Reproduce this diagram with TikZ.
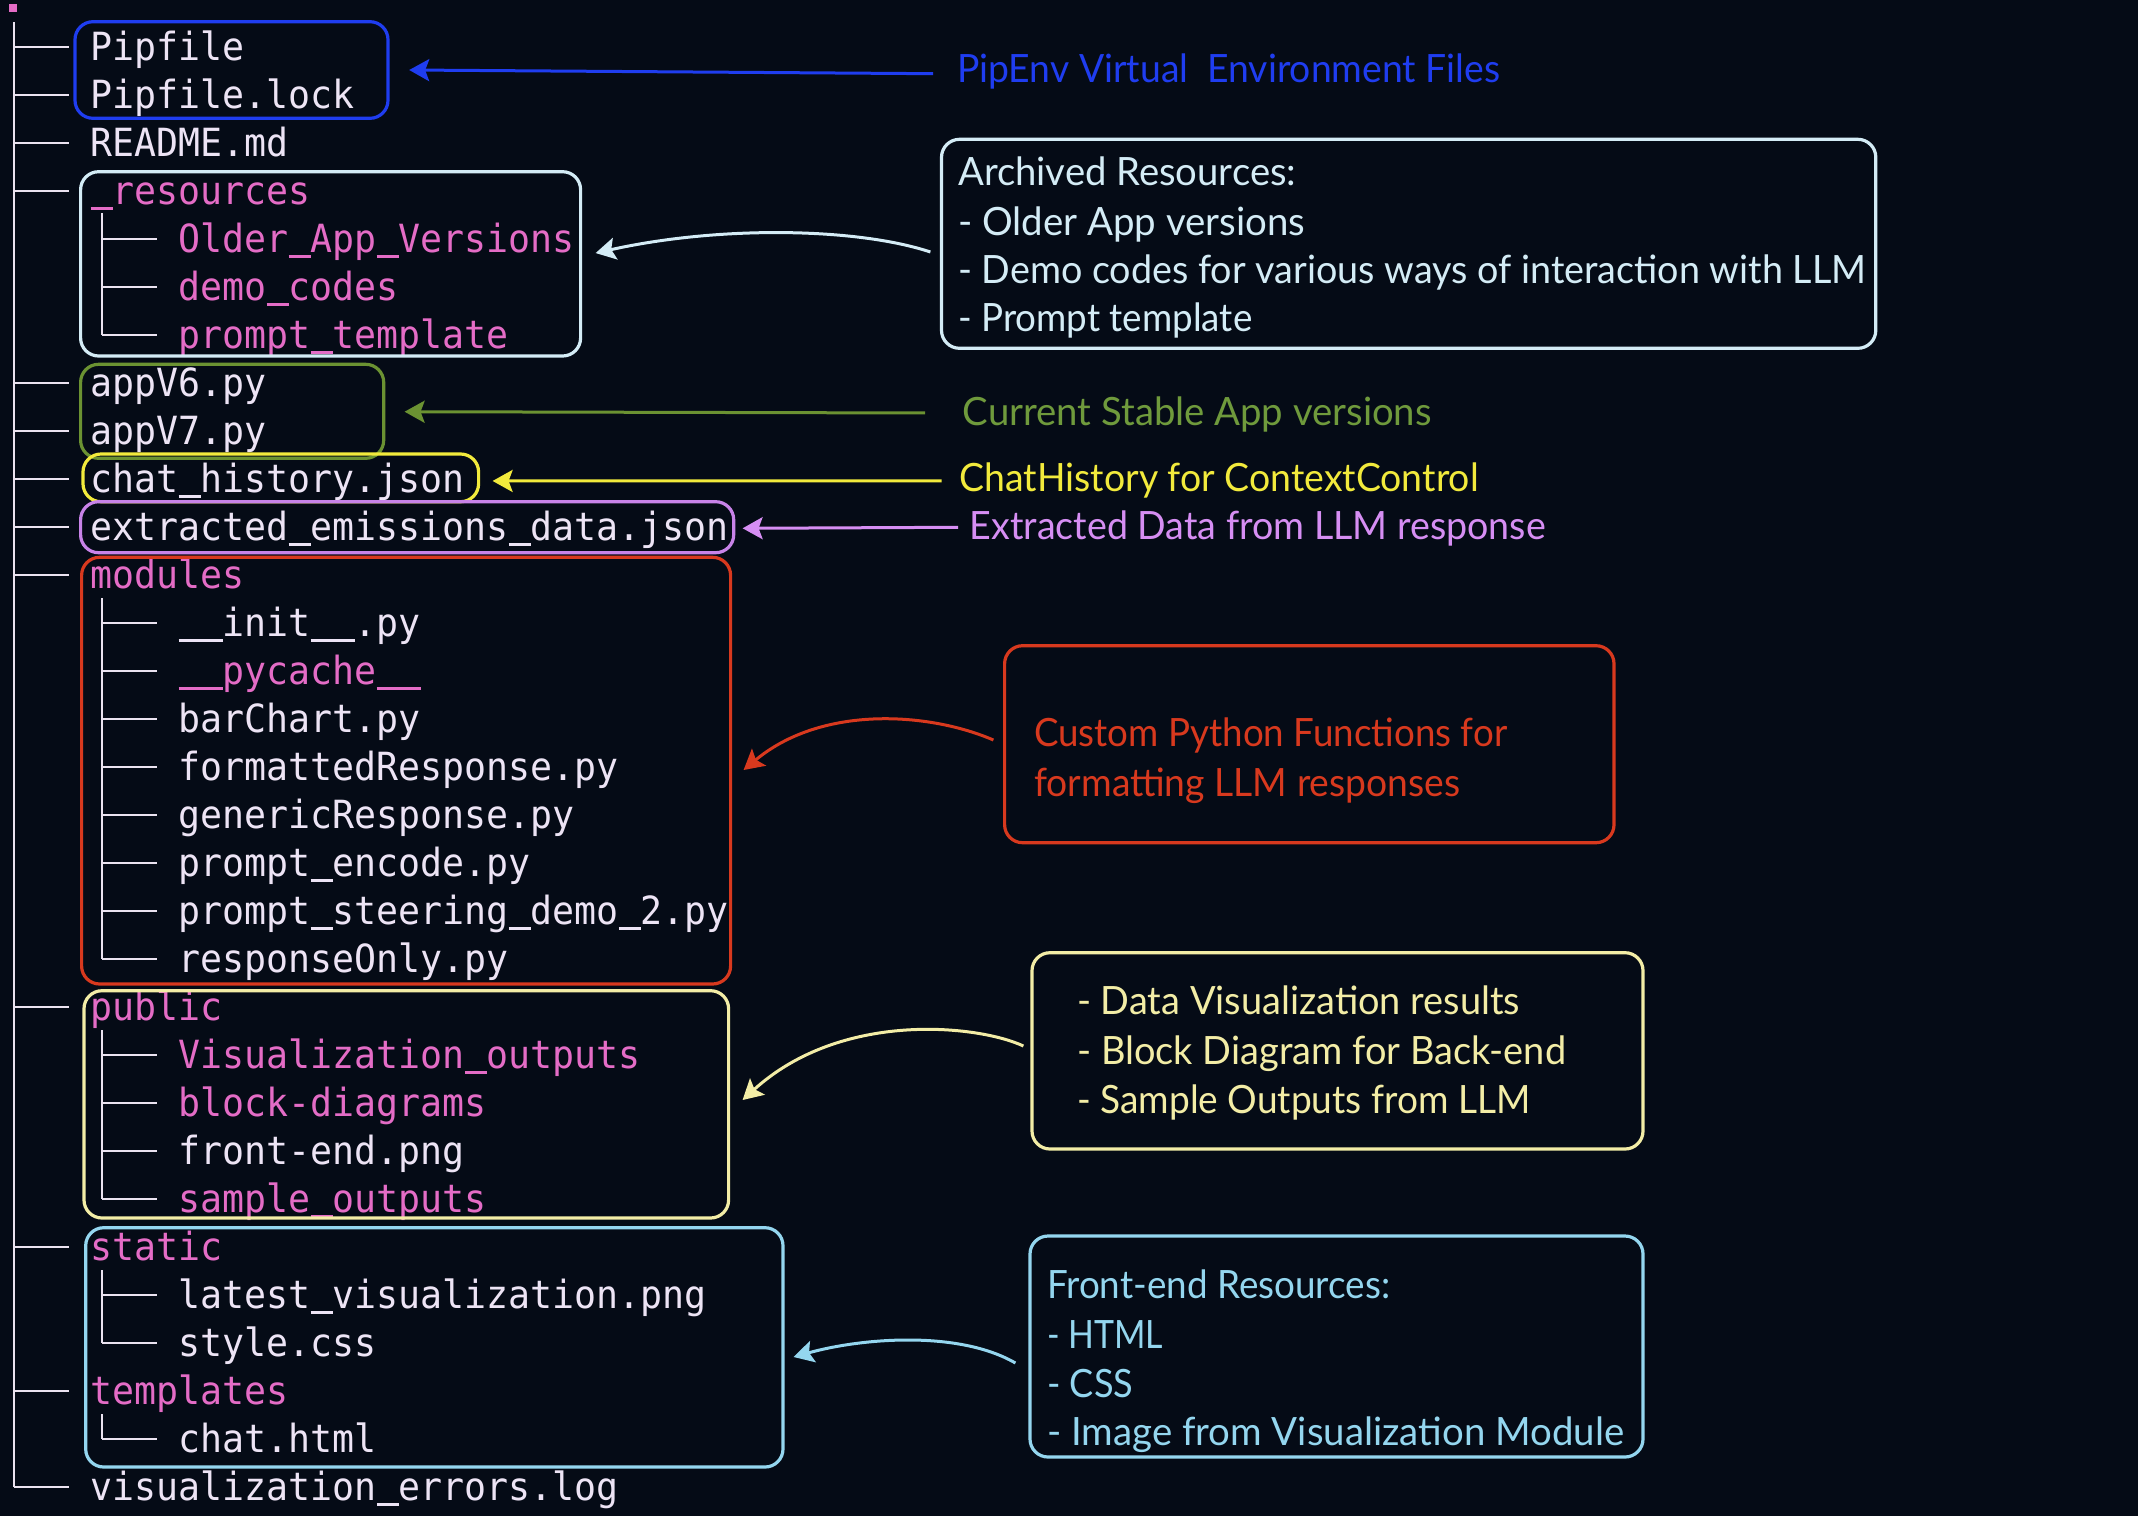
\documentclass[tikz,border=0pt]{standalone}
\usepackage{fontspec}
\usepackage{graphicx}
\usetikzlibrary{arrows.meta}
\newfontfamily\monof[FakeStretch=0.942]{DejaVu Sans Mono}
\newfontfamily\labf{Lato}
\definecolor{bgc}{HTML}{050B16}
\definecolor{filec}{HTML}{EDE4F5}
\definecolor{pinkc}{HTML}{E46CC6}
\definecolor{linec}{HTML}{EBE3F0}
\definecolor{bluec}{HTML}{1F3DF0}
\definecolor{palec}{HTML}{D4ECF6}
\definecolor{grnbox}{HTML}{6B9232}
\definecolor{grnlab}{HTML}{6F9A3C}
\definecolor{ylwc}{HTML}{F2EA3C}
\definecolor{viobox}{HTML}{C883E8}
\definecolor{violab}{HTML}{D68EF3}
\definecolor{redc}{HTML}{D8391E}
\definecolor{creamc}{HTML}{F3EDA6}
\definecolor{skyc}{HTML}{94D6EF}
\newsavebox\fitbox
\newlength\fitlen
\newcommand\fitto[2]{\sbox\fitbox{#2}\setlength\fitlen{\wd\fitbox}\pgfmathsetmacro\fitsc{#1/\fitlen}\scalebox{\fitsc}[1]{\usebox\fitbox}}
\newcommand\us{\makebox[0.567em][l]{\rule[-0.16em]{0.567em}{0.09em}}}
\tikzset{
  filetxt/.style={anchor=base west, inner sep=0pt, text=filec, font=\monof\fontsize{38.8}{46}\selectfont},
  dirtxt/.style={filetxt, text=pinkc},
  labtxt/.style={anchor=base west, inner sep=0pt, text=#1, font=\labf\fontsize{39}{47}\selectfont},
  boxframe/.style={draw=#1, line width=3.2pt, rounded corners=18pt, inner sep=0pt, minimum width=0pt, minimum height=0pt},
  arrowst/.style={draw=#1, line width=3pt, -{Stealth[length=20pt,width=22pt,inset=4pt]}},
  treeln/.style={draw=linec, line width=2pt},
}
\begin{document}
\begin{tikzpicture}[x=1pt,y=-1pt]
\fill[bgc] (0,0) rectangle (2138,1516);
\useasboundingbox (0,0) rectangle (2138,1516);

% root marker
\fill[pinkc] (9,4) rectangle (16.7,11.7);

% tree lines
\draw[treeln] (14,22) -- (14,1486.7);
\foreach \i in {0,1,2,3,7,8,9,10,11,20,25,28,30}{
  \pgfmathsetmacro\ry{46.7+48*\i}
  \draw[treeln] (14,\ry) -- (69,\ry);
}
\draw[treeln] (102,213) -- (102,334.7);
\draw[treeln] (102,598) -- (102,958.7);
\draw[treeln] (102,1030) -- (102,1198.7);
\draw[treeln] (102,1270) -- (102,1342.7);
\draw[treeln] (102,1414) -- (102,1438.7);
\foreach \i in {4,5,6,12,13,14,15,16,17,18,19,21,22,23,24,26,27,29}{
  \pgfmathsetmacro\ry{46.7+48*\i}
  \draw[treeln] (102,\ry) -- (157,\ry);
}

% tree text
\node[filetxt] (r0) at (90.5,60) {Pipfile};
\node[filetxt] (r1) at (90.5,108) {Pipfile.lock};
\node[filetxt] (r2) at (90.5,156) {README.md};
\node[dirtxt] (r3) at (90.5,204) {\us resources};
\node[dirtxt] (r4) at (178.5,252) {Older\us App\us Versions};
\node[dirtxt] (r5) at (178.5,300) {demo\us codes};
\node[dirtxt] (r6) at (178.5,348) {prompt\us template};
\node[filetxt] (r7) at (90.5,396) {appV6.py};
\node[filetxt] (r8) at (90.5,444) {appV7.py};
\node[filetxt] (r9) at (90.5,492) {chat\us history.json};
\node[filetxt] (r10) at (90.5,540) {extracted\us emissions\us data.json};
\node[dirtxt] (r11) at (90.5,588) {modules};
\node[filetxt] (r12) at (178.5,636) {\us\us init\us\us .py};
\node[dirtxt] (r13) at (178.5,684) {\us\us pycache\us\us};
\node[filetxt] (r14) at (178.5,732) {barChart.py};
\node[filetxt] (r15) at (178.5,780) {formattedResponse.py};
\node[filetxt] (r16) at (178.5,828) {genericResponse.py};
\node[filetxt] (r17) at (178.5,876) {prompt\us encode.py};
\node[filetxt] (r18) at (178.5,924) {prompt\us steering\us demo\us 2.py};
\node[filetxt] (r19) at (178.5,972) {responseOnly.py};
\node[dirtxt] (r20) at (90.5,1020) {public};
\node[dirtxt] (r21) at (178.5,1068) {Visualization\us outputs};
\node[dirtxt] (r22) at (178.5,1116) {block-diagrams};
\node[filetxt] (r23) at (178.5,1164) {front-end.png};
\node[dirtxt] (r24) at (178.5,1212) {sample\us outputs};
\node[dirtxt] (r25) at (90.5,1260) {static};
\node[filetxt] (r26) at (178.5,1308) {latest\us visualization.png};
\node[filetxt] (r27) at (178.5,1356) {style.css};
\node[dirtxt] (r28) at (90.5,1404) {templates};
\node[filetxt] (r29) at (178.5,1452) {chat.html};
\node[filetxt] (r30) at (90.5,1500) {visualization\us errors.log};

% group frames on the tree
\node[boxframe=bluec, minimum width=313pt, minimum height=96.6pt] (bluebox) at (231.5,70) {};
\node[boxframe=palec, minimum width=500pt, minimum height=184.3pt] (resbox) at (330.6,263.85) {};
\node[boxframe=grnbox, minimum width=303.1pt, minimum height=94pt] (grnframe) at (232.15,411.3) {};
\node[boxframe=ylwc, minimum width=395.6pt, minimum height=47.7pt] (ylwbox) at (280.8,477.85) {};
\node[boxframe=viobox, minimum width=653.1pt, minimum height=51pt] (vioframe) at (407.15,527.2) {};
\node[boxframe=redc, minimum width=649pt, minimum height=426.7pt] (redbox) at (406.1,770.65) {};
\node[boxframe=creamc, minimum width=644.6pt, minimum height=227.3pt] (pubbox) at (406.3,1104.35) {};
\node[boxframe=skyc, minimum width=697.3pt, minimum height=239.3pt] (stabox) at (434.35,1347.35) {};

% annotation frames
\node[boxframe=palec, minimum width=934.3pt, minimum height=209pt] (archbox) at (1408.65,243.8) {};
\node[boxframe=redc, minimum width=609.4pt, minimum height=197pt] (custbox) at (1309.3,744.2) {};
\node[boxframe=creamc, minimum width=611pt, minimum height=196.3pt] (visbox) at (1337.5,1050.85) {};
\node[boxframe=skyc, minimum width=613pt, minimum height=221pt] (frontbox) at (1336.5,1346.5) {};

% single-line labels
\node[labtxt=bluec] (pipl) at (957,82.7) {\fitto{543}{PipEnv Virtual\ \ Environment Files}};
\node[labtxt=grnlab] (curl) at (962.5,425) {\fitto{469}{Current Stable App versions}};
\node[labtxt=ylwc] (chatl) at (959.5,491) {\fitto{519}{ChatHistory for ContextControl}};
\node[labtxt=violab] (extl) at (969.5,539.3) {\fitto{576}{Extracted Data from LLM response}};

% archived resources text
\node[labtxt=palec] (a1) at (958,185) {\fitto{338}{Archived Resources:}};
\node[labtxt=palec] (a2) at (958,235) {\fitto{347}{- Older App versions}};
\node[labtxt=palec] (a3) at (958,283.3) {\fitto{908}{- Demo codes for various ways of interaction with LLM}};
\node[labtxt=palec] (a4) at (958,331.7) {\fitto{294}{- Prompt template}};

% custom python text
\node[labtxt=redc] (c1) at (1034,746.7) {\fitto{473}{Custom Python Functions for}};
\node[labtxt=redc] (c2) at (1034,796) {\fitto{426}{formatting LLM responses}};

% visualization text
\node[labtxt=creamc] (v1) at (1077,1014) {\fitto{443}{- Data Visualization results}};
\node[labtxt=creamc] (v2) at (1077,1064) {\fitto{489}{- Block Diagram for Back-end}};
\node[labtxt=creamc] (v3) at (1077,1113.3) {\fitto{453}{- Sample Outputs from LLM}};

% front-end text
\node[labtxt=skyc] (f1) at (1047,1298) {\fitto{343}{Front-end Resources:}};
\node[labtxt=skyc] (f2) at (1047,1348) {\fitto{116}{- HTML}};
\node[labtxt=skyc] (f3) at (1047,1397) {\fitto{86}{- CSS}};
\node[labtxt=skyc] (f4) at (1047,1445) {\fitto{577}{- Image from Visualization Module}};

% straight arrows
\draw[arrowst=bluec] ([shift={(-24,2)}]pipl.west) -- ([shift={(19.6,0)}]bluebox.east);
\draw[arrowst=grnbox] ([shift={(-37.5,-1)}]curl.west) -- ([shift={(19.3,0.4)}]grnframe.east);
\draw[arrowst=ylwc] ([shift={(-18,1)}]chatl.west) -- ([shift={(12.4,3.1)}]ylwbox.east);
\draw[arrowst=violab] ([shift={(-11.5,-1)}]extl.west) -- ([shift={(7.3,1.1)}]vioframe.east);

% curved arrows
\draw[arrowst=palec] ([shift={(-9.5,8.2)}]archbox.west) .. controls +(-72,-24) and +(126,-28) .. ([shift={(13.4,-10.8)}]resbox.east);
\draw[arrowst=redc] ([shift={(-9.6,-4.2)}]custbox.west) .. controls +(-65,-28) and +(78,-65) .. ([shift={(11.4,-0.65)}]redbox.east);
\draw[arrowst=creamc] ([shift={(-7,-4.85)}]visbox.west) .. controls +(-45,-21) and +(99,-90) .. ([shift={(12.4,-4.35)}]pubbox.east);
\draw[arrowst=skyc] ([shift={(-13,16.5)}]frontbox.west) .. controls +(-57,-33) and +(68,-19) .. ([shift={(9,9.65)}]stabox.east);
\end{tikzpicture}
\end{document}
